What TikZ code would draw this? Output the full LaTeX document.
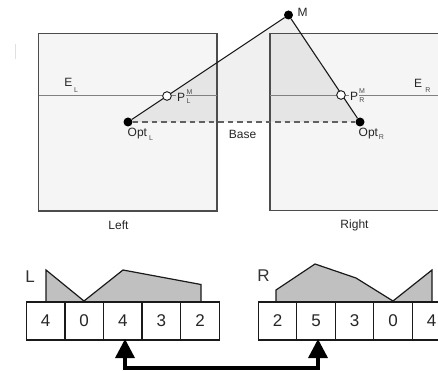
\documentclass[tikz,border=0pt]{standalone}
\usepackage{fontspec}
\setmainfont{Liberation Sans}
\usetikzlibrary{arrows.meta}
\definecolor{sq}{HTML}{F5F5F5}
\definecolor{tri}{HTML}{F0F0F0}
\definecolor{triin}{HTML}{E5E5E5}
\definecolor{hist}{HTML}{C0C0C0}
\definecolor{ink}{HTML}{1A1A1A}
\tikzset{
 x=1pt,y=-1pt,
 imgbox/.style={draw=black!70,line width=1.3pt,fill=sq},
 epi/.style={draw=black!50,line width=.7pt},
 ray/.style={draw=ink,line width=1.1pt},
 base/.style={draw=black!62,line width=1.2pt,dash pattern=on 5.5pt off 4pt},
 solid dot/.style={circle,fill=black,inner sep=0pt,minimum size=9pt},
 open dot/.style={circle,draw=ink,fill=white,line width=.8pt,inner sep=0pt,minimum size=8.5pt},
 lab/.style={inner sep=0pt,font=\fontsize{12}{14}\selectfont,text=black!85},
 sub/.style={inner sep=0pt,font=\fontsize{7}{8}\selectfont,text=black!70},
 cell/.style={draw=ink,line width=1.3pt,fill=white,minimum width=38.6pt,minimum height=38pt,inner sep=0pt,font=\fontsize{17}{19}\selectfont,text=black!85},
 histo/.style={draw=ink,line width=1.2pt,fill=hist,line join=miter},
 big/.style={inner sep=0pt,font=\fontsize{17}{19}\selectfont,text=black!80},
 match/.style={draw=black,line width=3.4pt,-{Triangle[length=19pt,width=19pt]}},
}
\begin{document}
\begin{tikzpicture}
\useasboundingbox (0,0) rectangle (438,371);
\clip (0,0) rectangle (438,371);
\draw[black!12,line width=.6pt] (15.5,44) -- (15.5,59);
% image planes
\coordinate (M0) at (288.5,15);
\coordinate (OL) at (128,122);
\coordinate (OR) at (360,122);
\fill[tri] (M0) -- (OL) -- (OR) -- cycle;
\path[imgbox] (38.5,33.5) rectangle (217,211);
\path[imgbox] (270,33.5) rectangle (445,210.5);
\begin{scope}
\clip (38.5,33.5) rectangle (217,211);
\fill[triin] (M0) -- (OL) -- (OR) -- cycle;
\end{scope}
\begin{scope}
\clip (270,33.5) rectangle (445,210.5);
\fill[triin] (M0) -- (OL) -- (OR) -- cycle;
\end{scope}
\draw[imgbox,fill=none] (38.5,33.5) rectangle (217,211);
\draw[imgbox,fill=none] (270,33.5) rectangle (445,210.5);
% epipolar lines
\coordinate (EL0) at (39,95);
\coordinate (EL1) at (217,95);
\coordinate (ER0) at (270,95);
\coordinate (ER1) at (438,95);
\draw[epi] (EL0) -- (EL1);
\draw[epi] (ER0) -- (ER1);
% points
\node[solid dot] (M) at (288.5,15) {};
\node[solid dot] (OptL) at (128,122) {};
\node[solid dot] (OptR) at (360,122) {};
\node[open dot] (PL) at (167,96) {};
\node[open dot] (PR) at (341,95) {};
\draw[base] (OptL) -- (OptR);
\draw[ray] (OptL) -- (M) -- (OptR);
\node[open dot] at (167,96) {};
\node[open dot] at (341,95) {};
% labels
\node[lab] (tM) at (302.5,12) {M};
\node[lab] (tEL) at (68.5,82) {E};
\node[sub] (tELs) at (76,90) {L};
\node[lab,fill=triin,inner xsep=1pt] (tPL) at (181,97) {P};
\node[sub,fill=triin,inner xsep=.5pt] (tPLa) at (189.5,92) {M};
\node[sub,fill=triin,inner xsep=.5pt] (tPLb) at (188.5,101) {L};
\node[lab,fill=sq,inner xsep=1pt] (tPR) at (354,96) {P};
\node[sub,fill=sq,inner xsep=.5pt] (tPRa) at (362,91) {M};
\node[sub,fill=sq,inner xsep=.5pt] (tPRb) at (362,100) {R};
\node[lab] (tER) at (418,83) {E};
\node[sub] (tERs) at (428,90) {R};
\node[lab,anchor=west] (tOL) at (127.5,134) {Opt};
\node[sub] (tOLs) at (151,138) {L};
\node[lab,anchor=west] (tOR) at (358.5,134) {Opt};
\node[sub] (tORs) at (381.5,137.5) {R};
\node[lab] (tBase) at (242.5,134) {Base};
\node[lab] (tLeft) at (118.5,225) {Left};
\node[lab] (tRight) at (354.5,225) {Right};
% histograms
\draw[histo] (46,301) -- (46,270) -- (84,301) -- (123,270) -- (201,284.5) -- (201,301);
\draw[histo] (276,301) -- (276,290) -- (315,264) -- (356,278) -- (393,301) -- (432,270) -- (432,301);
% cells
\node[big] (tL) at (30,277) {L};
\node[big] (tR) at (263.5,276) {R};
\node[cell] (a1) at (45.5,321) {4};
\node[cell] (a2) at (84.2,321) {0};
\node[cell] (a3) at (122.8,321) {4};
\node[cell] (a4) at (161.4,321) {3};
\node[cell] (a5) at (200,321) {2};
\node[cell] (b1) at (277.5,321) {2};
\node[cell] (b2) at (316,321) {5};
\node[cell] (b3) at (354.5,321) {3};
\node[cell] (b4) at (393,321) {0};
\node[cell] (b5) at (431.5,321) {4};
% matching arrow
\coordinate (bendL) at (125,368);
\coordinate (bendR) at (318,368);
\coordinate (tipL) at (125,339);
\coordinate (tipR) at (318,339);
\draw[match] (bendL) -- (tipL);
\draw[match] (bendR) -- (tipR);
\draw[draw=black,line width=3.4pt,line cap=rect] (bendL) -- (bendR);
\end{tikzpicture}
\end{document}
